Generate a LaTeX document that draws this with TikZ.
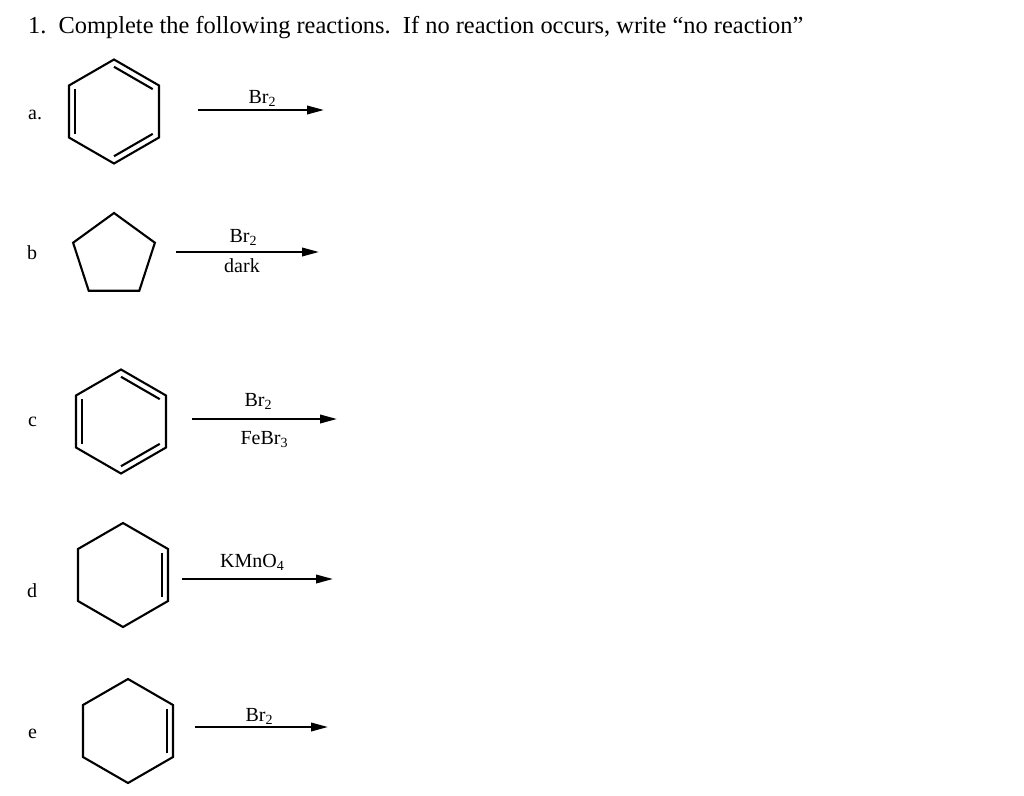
\documentclass[tikz,border=0pt]{standalone}
\usepackage{fontspec}
\setmainfont{Liberation Serif}
\usetikzlibrary{arrows.meta,calc}
\tikzset{
  bond/.style={line width=2.1pt, line join=miter, line cap=butt},
  rxnarrow/.style={line width=2.1pt, -{Triangle[length=17pt,width=8.5pt]}},
  reagent/.style={anchor=base, inner sep=0pt, font=\fontsize{20}{24}\selectfont},
  itemlabel/.style={anchor=base west, inner sep=0pt, font=\fontsize{20}{24}\selectfont},
  titletext/.style={anchor=base west, inner sep=0pt, font=\fontsize{24.4}{28}\selectfont}
}
\newcommand{\chemsub}[1]{\raisebox{-3.5pt}{\fontsize{14}{14}\selectfont #1}}
% hexagon with pointy top; in flipped y: -90 top, -30 upper right, 30 lower right, 90 bottom, 150 lower left, 210 upper left
\newcommand{\hexring}[2]{%
  \draw[bond] ($(#1)+(-90:#2)$) -- ($(#1)+(-30:#2)$) -- ($(#1)+(30:#2)$) -- ($(#1)+(90:#2)$) -- ($(#1)+(150:#2)$) -- ($(#1)+(210:#2)$) -- cycle;}
\newcommand{\innerbond}[4]{% center, radius, angle1, angle2
  \draw[bond] ($(#1)+(#3:0.86*#2)$) -- ($(#1)+(#4:0.86*#2)$);}
\begin{document}
\begin{tikzpicture}[x=1pt,y=-1pt]
\useasboundingbox (0,0) rectangle (1024,795);
\fill[white] (0,0) rectangle (1024,795);

\node[titletext] (title) at (28,33) {1.\ \ Complete the following reactions.\ \ If no reaction occurs, write “no reaction”};

% labels
\node[itemlabel] (la) at (28,119) {a.};
\node[itemlabel] (lb) at (27,259) {b};
\node[itemlabel] (lc) at (28,426) {c};
\node[itemlabel] (ld) at (27,597) {d};
\node[itemlabel] (le) at (28,738) {e};

% a: benzene
\coordinate (ca) at (114,111.5);
\hexring{ca}{52}
\innerbond{ca}{52}{210}{150}
\innerbond{ca}{52}{-90}{-30}
\innerbond{ca}{52}{30}{90}
\coordinate (a1) at (198,110);
\coordinate (a2) at (324,110);
\draw[rxnarrow] (a1) -- (a2);
\node[reagent] (ra) at (262,103) {Br\chemsub{2}};

% b: cyclopentane
\coordinate (cb) at (114,256);
\draw[bond] ($(cb)+(-90:43)$) -- ($(cb)+(-18:43)$) -- ($(cb)+(54:43)$) -- ($(cb)+(126:43)$) -- ($(cb)+(198:43)$) -- cycle;
\coordinate (b1) at (176,252);
\coordinate (b2) at (319,252);
\draw[rxnarrow] (b1) -- (b2);
\node[reagent] (rb1) at (243,242) {Br\chemsub{2}};
\node[reagent] (rb2) at (242,272) {dark};

% c: benzene
\coordinate (cc) at (121,421.5);
\hexring{cc}{52}
\innerbond{cc}{52}{210}{150}
\innerbond{cc}{52}{-90}{-30}
\innerbond{cc}{52}{30}{90}
\coordinate (c1) at (192,419);
\coordinate (c2) at (337,419);
\draw[rxnarrow] (c1) -- (c2);
\node[reagent] (rc1) at (258,406) {Br\chemsub{2}};
\node[reagent] (rc2) at (264,444) {FeBr\chemsub{3}};

% d: cyclohexene
\coordinate (cd) at (123,575);
\hexring{cd}{52}
\innerbond{cd}{52}{-30}{30}
\coordinate (d1) at (182,579);
\coordinate (d2) at (333,579);
\draw[rxnarrow] (d1) -- (d2);
\node[reagent] (rd) at (252,567) {KMnO\chemsub{4}};

% e: cyclohexene
\coordinate (ce) at (128,731);
\hexring{ce}{52}
\innerbond{ce}{52}{-30}{30}
\coordinate (e1) at (195,727);
\coordinate (e2) at (328,727);
\draw[rxnarrow] (e1) -- (e2);
\node[reagent] (re) at (259,721) {Br\chemsub{2}};
\end{tikzpicture}
\end{document}
